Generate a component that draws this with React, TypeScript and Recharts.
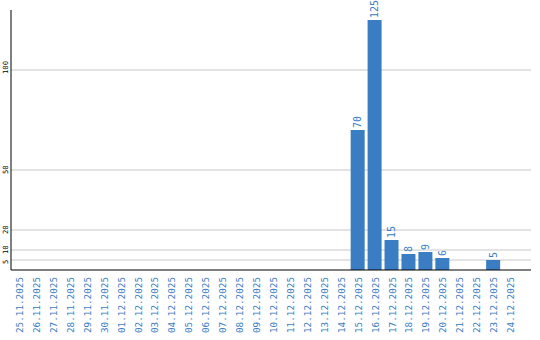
import { BarChart, Bar, XAxis, YAxis, CartesianGrid, LabelList } from "recharts";

const dates = [
  "25.11.2025", "26.11.2025", "27.11.2025", "28.11.2025", "29.11.2025", "30.11.2025",
  "01.12.2025", "02.12.2025", "03.12.2025", "04.12.2025", "05.12.2025", "06.12.2025",
  "07.12.2025", "08.12.2025", "09.12.2025", "10.12.2025", "11.12.2025", "12.12.2025",
  "13.12.2025", "14.12.2025", "15.12.2025", "16.12.2025", "17.12.2025", "18.12.2025",
  "19.12.2025", "20.12.2025", "21.12.2025", "22.12.2025", "23.12.2025", "24.12.2025",
];

const counts: (number | null)[] = [
  null, null, null, null, null, null,
  null, null, null, null, null, null,
  null, null, null, null, null, null,
  null, null, 70, 125, 15, 8,
  9, 6, null, null, 5, null,
];

const yTicks = [5, 10, 20, 50, 100];
const yMax = 130;

const data = dates.map((d, i) => ({ date: d, count: counts[i] }));

const BLUE = "#3b7dc3";
const MONO = "'DejaVu Sans Mono', monospace";

function DateTick({ x, y, payload }: any) {
  return (
    <text
      x={0}
      y={0}
      transform={`translate(${x},${y - 1}) rotate(-90)`}
      textAnchor="end"
      dominantBaseline="central"
      fill={BLUE}
      fontSize={9.3}
      fontFamily={MONO}
    >
      {payload.value}
    </text>
  );
}

function ValueTick({ y, payload }: any) {
  return (
    <text
      x={0}
      y={0}
      transform={`translate(5,${y + 4}) rotate(-90)`}
      textAnchor="start"
      dominantBaseline="central"
      fill="#000"
      fontSize={7.2}
      fontFamily={MONO}
    >
      {payload.value}
    </text>
  );
}

function BarValue({ x, y, width, value }: any) {
  if (value == null) return null;
  const cx = x + width / 2;
  return (
    <text
      x={0}
      y={0}
      transform={`translate(${cx},${y - 2}) rotate(-90)`}
      textAnchor="start"
      dominantBaseline="central"
      fill={BLUE}
      fontSize={10}
      fontFamily={MONO}
    >
      {value}
    </text>
  );
}

// grid only at the y ticks; fall back to the plot offset if the scale isn't callable
function gridRows({ yAxis, offset }: any) {
  const s = yAxis?.scale;
  if (typeof s === "function") return yTicks.map((t) => s(t));
  if (s && typeof s.map === "function") return yTicks.map((t) => s.map(t));
  return yTicks.map((t) => offset.top + offset.height * (1 - t / yMax));
}

export default function App() {
  return (
    <div style={{ position: "absolute", left: 0, top: 0, width: 540, height: 340, background: "#fff" }}>
      <BarChart
        width={540}
        height={340}
        data={data}
        margin={{ top: 10, right: 9, left: 0, bottom: 0 }}
      >
        <CartesianGrid vertical={false} stroke="#c8c8c8" horizontalCoordinatesGenerator={gridRows} />
        <XAxis
          dataKey="date"
          interval={0}
          height={70}
          padding={{ left: 0, right: 12 }}
          tick={<DateTick />}
          tickLine={false}
          axisLine={{ stroke: "#000" }}
        />
        <YAxis
          width={11}
          domain={[0, yMax]}
          ticks={yTicks}
          interval={0}
          tick={<ValueTick />}
          tickLine={false}
          axisLine={{ stroke: "#000" }}
        />
        <Bar dataKey="count" fill={BLUE} barSize={14} isAnimationActive={false}>
          <LabelList dataKey="count" content={<BarValue />} />
        </Bar>
      </BarChart>
    </div>
  );
}
